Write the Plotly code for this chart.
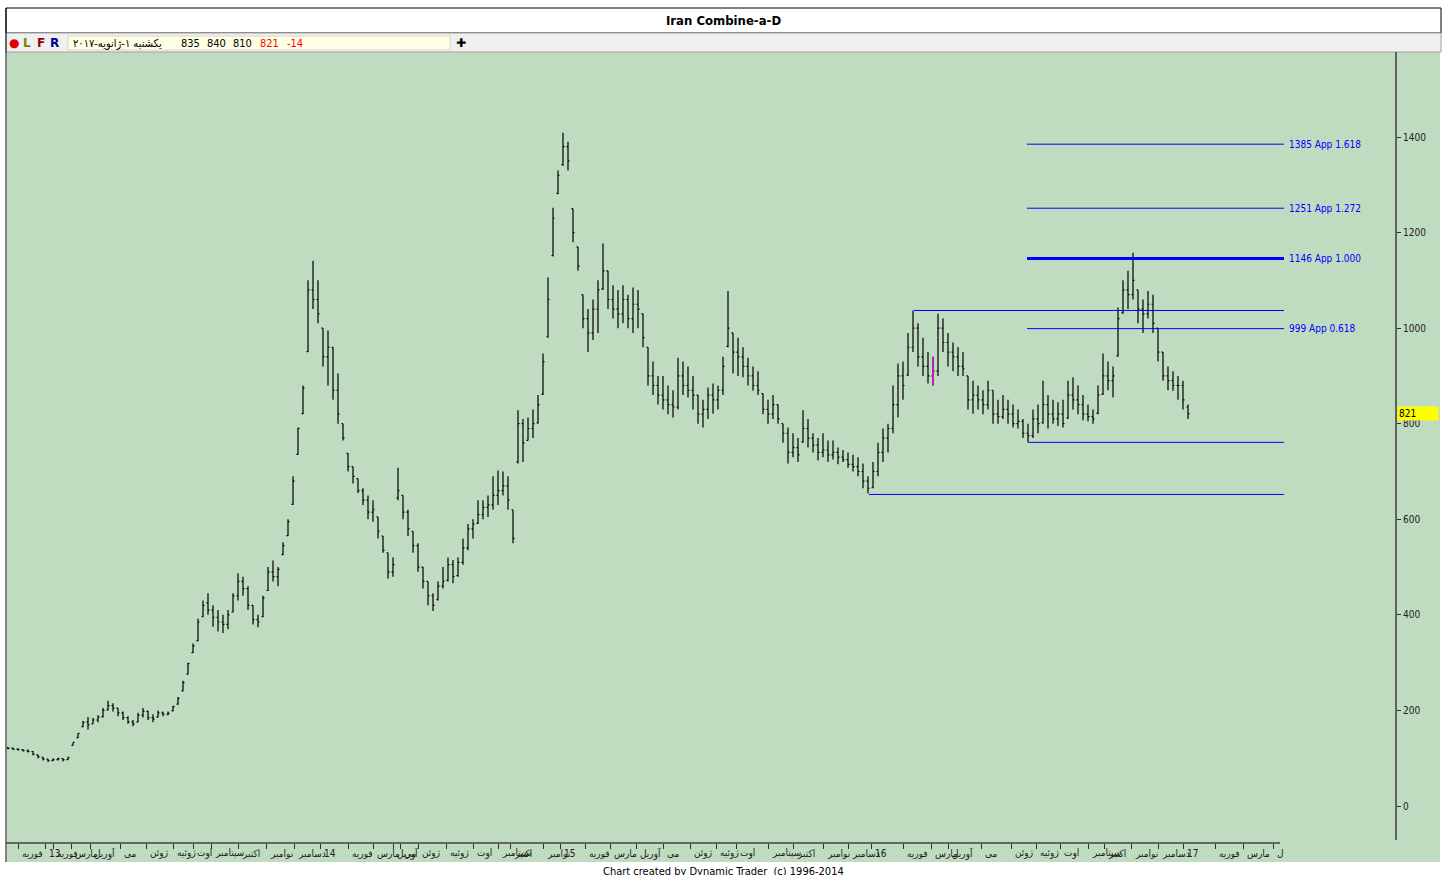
import plotly.graph_objects as go

# daily-ish bars (one bar per ~5px)
lows = [118, 117, 116, 114, 112, 106, 100, 95, 92, 94,
        95, 93, 96, 127, 142, 165, 160, 172, 175, 185,
        200, 198, 188, 180, 172, 167, 175, 185, 180, 175,
        185, 188, 190, 198, 212, 240, 275, 320, 345, 395,
        400, 375, 365, 362, 370, 405, 430, 440, 410, 380,
        374, 395, 450, 470, 460, 525, 565, 630, 735, 820,
        950, 1040, 1010, 920, 880, 850, 800, 765, 700, 675,
        655, 630, 600, 595, 560, 530, 476, 480, 640, 600,
        565, 530, 490, 455, 420, 408, 430, 455, 470, 466,
        480, 505, 535, 560, 590, 600, 605, 620, 630, 650,
        620, 550, 717, 720, 765, 770, 800, 860, 980, 1150,
        1280, 1340, 1330, 1180, 1120, 1000, 950, 975, 990, 1080,
        1040, 1020, 1000, 1010, 1000, 990, 1000, 960, 880, 860,
        840, 830, 820, 813, 830, 860, 855, 830, 800, 792,
        810, 821, 830, 860, 960, 905, 900, 897, 880, 869,
        860, 820, 800, 810, 800, 760, 717, 730, 720, 760,
        750, 740, 723, 730, 720, 725, 715, 720, 708, 700,
        690, 665, 654, 665, 690, 720, 740, 780, 813, 850,
        900, 950, 920, 900, 884, 880, 900, 950, 920, 910,
        900, 900, 830, 821, 830, 820, 830, 800, 800, 810,
        800, 792, 790, 770, 761, 770, 780, 800, 790, 800,
        795, 792, 810, 830, 820, 807, 805, 800, 820, 860,
        870, 855, 940, 1030, 1040, 1060, 1010, 990, 1020, 990,
        930, 890, 870, 869, 850, 830, 810]
highs = [123, 122, 121, 119, 118, 115, 108, 103, 99, 100,
         101, 100, 103, 133, 152, 178, 186, 184, 190, 205,
         220, 215, 205, 198, 188, 180, 195, 205, 200, 192,
         200, 198, 198, 210, 228, 262, 300, 340, 392, 430,
         445, 420, 410, 400, 410, 445, 487, 480, 460, 420,
         400, 440, 500, 514, 500, 552, 600, 690, 792, 880,
         1100, 1141, 1100, 1000, 995, 960, 905, 800, 738, 710,
         685, 665, 650, 640, 605, 565, 530, 520, 708, 650,
         620, 575, 550, 500, 470, 445, 470, 500, 520, 515,
         520, 560, 590, 600, 640, 640, 650, 690, 702, 700,
         690, 620, 828, 810, 813, 830, 860, 947, 1106, 1252,
         1330, 1409, 1390, 1250, 1170, 1070, 1040, 1060, 1100, 1177,
         1120, 1090, 1080, 1090, 1070, 1085, 1080, 1030, 960, 930,
         900, 900, 880, 870, 938, 930, 920, 900, 860, 850,
         876, 884, 880, 940, 1078, 990, 980, 960, 938, 920,
         910, 863, 850, 860, 840, 800, 792, 780, 770, 828,
         810, 780, 770, 780, 765, 765, 750, 745, 740, 735,
         730, 717, 690, 720, 760, 790, 800, 880, 926, 930,
         990, 1037, 1010, 980, 950, 940, 1030, 1020, 990, 970,
         960, 950, 900, 890, 880, 870, 890, 870, 850, 860,
         850, 840, 830, 810, 800, 830, 840, 890, 860, 850,
         845, 850, 890, 897, 880, 860, 840, 830, 880, 947,
         930, 920, 1043, 1100, 1120, 1158, 1080, 1060, 1078, 1070,
         1000, 950, 920, 910, 900, 890, 840]
closes = [121, 119, 118, 116, 114, 108, 103, 98, 95, 97,
          99, 97, 101, 133, 152, 175, 170, 180, 186, 200,
          210, 205, 195, 185, 176, 172, 190, 198, 185, 182,
          195, 192, 194, 208, 225, 258, 298, 335, 385, 420,
          410, 395, 385, 380, 400, 440, 470, 455, 420, 390,
          385, 435, 490, 480, 495, 545, 595, 680, 790, 875,
          1080, 1060, 1030, 940, 960, 870, 820, 770, 710, 690,
          660, 640, 615, 620, 575, 535, 490, 505, 660, 615,
          580, 545, 500, 470, 440, 420, 460, 470, 505, 480,
          510, 540, 580, 590, 610, 625, 630, 650, 660, 670,
          640, 560, 800, 760, 790, 800, 840, 930, 1060, 1230,
          1320, 1380, 1350, 1200, 1130, 1020, 990, 1040, 1080, 1120,
          1060, 1040, 1030, 1060, 1020, 1050, 1040, 980, 900, 880,
          860, 850, 840, 835, 900, 880, 870, 860, 820, 830,
          860, 850, 870, 920, 1000, 950, 940, 920, 900, 880,
          870, 830, 820, 840, 810, 780, 740, 750, 735, 790,
          770, 755, 740, 745, 735, 740, 730, 725, 715, 710,
          700, 680, 665, 700, 740, 770, 790, 840, 900, 880,
          960, 1000, 940, 920, 900, 910, 1000, 970, 950, 940,
          920, 915, 850, 860, 850, 840, 870, 820, 815, 830,
          820, 800, 805, 780, 775, 810, 800, 840, 820, 810,
          820, 800, 860, 850, 840, 820, 815, 810, 860, 900,
          890, 900, 1020, 1080, 1070, 1100, 1040, 1030, 1050, 1010,
          950, 900, 890, 880, 880, 850, 821]
opens = [122, 121, 119, 118, 116, 114, 107, 102, 98, 95,
         97, 99, 97, 127, 143, 166, 176, 172, 180, 187,
         201, 210, 205, 195, 185, 176, 176, 190, 198, 185,
         186, 195, 192, 199, 213, 241, 276, 321, 346, 396,
         425, 410, 395, 385, 380, 406, 440, 470, 455, 420,
         390, 396, 451, 490, 480, 526, 566, 631, 736, 821,
         951, 1080, 1060, 1000, 940, 960, 870, 800, 738, 710,
         685, 660, 640, 615, 605, 565, 530, 490, 645, 650,
         615, 575, 545, 500, 470, 440, 432, 460, 472, 505,
         482, 510, 540, 580, 592, 610, 625, 630, 650, 660,
         670, 620, 720, 800, 765, 790, 802, 862, 982, 1152,
         1282, 1342, 1380, 1250, 1170, 1070, 1020, 990, 1040, 1082,
         1120, 1060, 1040, 1030, 1060, 1020, 1050, 1030, 960, 900,
         880, 860, 850, 840, 835, 900, 880, 870, 860, 820,
         830, 860, 850, 870, 962, 990, 950, 940, 920, 900,
         880, 863, 830, 820, 840, 800, 780, 740, 750, 762,
         790, 770, 755, 740, 745, 735, 740, 730, 725, 715,
         710, 700, 680, 666, 700, 740, 770, 790, 840, 900,
         902, 960, 1000, 940, 920, 900, 910, 1000, 970, 950,
         940, 920, 900, 850, 860, 850, 840, 870, 820, 815,
         830, 820, 800, 805, 780, 775, 810, 802, 840, 820,
         810, 820, 812, 860, 850, 840, 820, 815, 822, 862,
         900, 890, 942, 1032, 1080, 1070, 1080, 1040, 1030, 1050,
         1000, 950, 900, 890, 880, 880, 835]
bars = list(range(len(closes)))
marked_bar = 185

# month labels on the time axis and the bar where each starts
month_text = ["فوریه", "13", "فوریه", "مارس", "آوریل", "می", "ژوئن", "ژوئیه", "اوت", "سپتامبر",
              "اکتبر", "نوامبر", "دسامبر", "14", "فوریه", "مارس", "آوریل", "می", "ژوئن", "ژوئیه",
              "اوت", "سپتامبر", "اکتبر", "نوامبر", "15", "فوریه", "مارس", "آوریل", "می", "ژوئن",
              "ژوئیه", "اوت", "سپتامبر", "اکتبر", "نوامبر", "دسامبر", "16", "فوریه", "مارس", "آوریل",
              "می", "ژوئن", "ژوئیه", "اوت", "سپتامبر", "اکتبر", "نوامبر", "دسامبر", "17", "فوریه",
              "مارس", "ل"]
month_bar = [2.0, 7.4, 9.0, 12.6, 16.4, 22.4, 27.6, 33.0, 37.0, 40.6,
             46.0, 51.6, 57.2, 62.4, 68.0, 73.0, 77.0, 78.4, 82.0, 87.6,
             93.0, 98.0, 100.4, 107.0, 110.4, 115.4, 120.4, 125.6, 131.0, 136.4,
             141.6, 145.6, 152.0, 157.0, 163.0, 168.0, 172.6, 179.0, 184.6, 188.0,
             194.6, 200.6, 205.6, 210.4, 216.0, 219.2, 224.6, 230.0, 235.0, 241.4,
             247.0, 253.0]

# fibonacci projections (price, label, line width)
fib_price = [1385, 1251, 1146, 999]
fib_label = ["1385 App 1.618", "1251 App 1.272", "1146 App 1.000", "999 App 0.618"]
fib_width = [1, 1, 3, 1]
fib_start = 203.8
# horizontal swing lines: price and starting bar
swing_price = [1037, 761, 652]
swing_start = [181.2, 204.0, 172.2]
line_end = 255.2

price_ticks = [0, 200, 400, 600, 800, 1000, 1200, 1400]
last_price = 821

W, H = 1445, 875
L_M, R_M, T_M, B_M = 7, 5, 52, 13
PW, PH = W - L_M - R_M, H - T_M - B_M


def px(x):
    return (x - L_M) / PW


def py(y):
    return (H - B_M - y) / PH


GREEN = "#c0dcc0"
NARROW = "Liberation Sans Narrow, DejaVu Sans Condensed, Arial Narrow, sans-serif"

fig = go.Figure()
fig.add_trace(go.Ohlc(x=bars, open=opens, high=highs, low=lows, close=closes,
                      increasing_line_color="black", decreasing_line_color="black",
                      line_width=1.2, tickwidth=0.3, hoverinfo="skip", showlegend=False))
fig.add_trace(go.Ohlc(x=[marked_bar], open=[opens[marked_bar]], high=[highs[marked_bar]],
                      low=[lows[marked_bar]], close=[closes[marked_bar]],
                      increasing_line_color="#ff00ff", decreasing_line_color="#ff00ff",
                      line_width=1.2, tickwidth=0.3, hoverinfo="skip", showlegend=False))

shapes = []
for p, w in zip(fib_price, fib_width):
    shapes.append(dict(type="line", xref="x", yref="y", x0=fib_start, x1=line_end, y0=p, y1=p,
                       line=dict(color="#0000ff", width=w)))
for p, s in zip(swing_price, swing_start):
    shapes.append(dict(type="line", xref="x", yref="y", x0=s, x1=line_end, y0=p, y1=p,
                       line=dict(color="#0000ff", width=1)))

# frame, title bar, toolbar
shapes += [
    dict(type="rect", xref="paper", yref="paper", x0=px(6), x1=px(1441), y0=py(8), y1=py(33),
         line=dict(color="black", width=1), fillcolor="white", layer="below"),
    dict(type="rect", xref="paper", yref="paper", x0=px(6), x1=px(1441), y0=py(33), y1=py(52),
         line=dict(color="#a0a0a0", width=1), fillcolor="#f0f0f0", layer="below"),
    dict(type="rect", xref="paper", yref="paper", x0=px(68), x1=px(450), y0=py(36), y1=py(50),
         line=dict(color="#d8d8c0", width=1), fillcolor="#ffffe6"),
    dict(type="line", xref="paper", yref="paper", x0=px(6), x1=px(6), y0=py(862), y1=py(8),
         line=dict(color="black", width=1)),
    dict(type="line", xref="paper", yref="paper", x0=px(1396), x1=px(1396), y0=py(840), y1=py(52),
         line=dict(color="#606060", width=2)),
    dict(type="line", xref="paper", yref="paper", x0=px(6), x1=px(1280), y0=py(843), y1=py(843),
         line=dict(color="#404040", width=1.5)),
]

ann = []
for t, b in zip(month_text, month_bar):
    ann.append(dict(x=b + 0.4, y=py(853), xref="x", yref="paper", text=t, showarrow=False,
                    xanchor="left", yanchor="middle", font=dict(size=10, color="#202020", family=NARROW)))
for p, t in zip(fib_price, fib_label):
    ann.append(dict(x=line_end + 0.6, y=p, xref="x", yref="y", text=t, showarrow=False,
                    xanchor="left", yanchor="middle", font=dict(size=10, color="#0000ff", family=NARROW)))
ann.append(dict(x=px(1397), y=last_price, xref="paper", yref="y", text=str(last_price),
                showarrow=False, xanchor="left", yanchor="middle", bgcolor="#ffff00",
                width=38, align="left", borderpad=1,
                font=dict(size=10, color="black", family=NARROW)))
ann.append(dict(x=0.5, y=py(20), xref="paper", yref="paper", text="<b>Iran Combine-a-D</b>",
                showarrow=False, xanchor="center", yanchor="middle",
                font=dict(size=13, color="black", family=NARROW)))
ann.append(dict(x=0.5, y=py(871), xref="paper", yref="paper",
                text="Chart created by Dynamic Trader  (c) 1996-2014", showarrow=False,
                xanchor="center", yanchor="middle", font=dict(size=11, color="black", family=NARROW)))

toolbar = [("●", 14, "#e00000"), ("L", 27, "#808000"), ("F", 41, "#900000"), ("R", 54, "#000090")]
for t, x, c in toolbar:
    ann.append(dict(x=px(x), y=py(43), xref="paper", yref="paper", text="<b>" + t + "</b>",
                    showarrow=False, xanchor="center", yanchor="middle",
                    font=dict(size=12, color=c, family="DejaVu Sans")))
header = [("یکشنبه ۱-ژانویه-۲۰۱۷", 71, "black"), ("835", 179, "black"), ("840", 205, "black"),
          ("810", 231, "black"), ("821", 258, "#ff0000"), ("-14", 285, "#ff0000")]
for t, x, c in header:
    ann.append(dict(x=px(x), y=py(43), xref="paper", yref="paper", text=t, showarrow=False,
                    xanchor="left", yanchor="middle", font=dict(size=11, color=c, family=NARROW)))
ann.append(dict(x=px(461), y=py(43), xref="paper", yref="paper", text="<b>✚</b>", showarrow=False,
                xanchor="center", yanchor="middle", font=dict(size=12, color="black", family="DejaVu Sans")))

fig.update_layout(
    width=W, height=H,
    margin=dict(l=L_M, r=R_M, t=T_M, b=B_M),
    paper_bgcolor="white", plot_bgcolor=GREEN,
    shapes=shapes, annotations=ann,
    xaxis=dict(range=[-0.2, 286.4], anchor="free", position=py(843), showgrid=False,
               zeroline=False, showline=False, ticks="outside", ticklen=5, tickwidth=1,
               tickcolor="#303030", tickvals=month_bar, showticklabels=False,
               rangeslider=dict(visible=False)),
    yaxis=dict(range=[-117.2, 1577.9], side="right", anchor="free", position=px(1396),
               showgrid=False, zeroline=False, showline=False, ticks="outside", ticklen=4,
               tickcolor="#303030", tickvals=price_ticks, ticklabelstandoff=0,
               tickfont=dict(size=10, color="#202020", family=NARROW)),
    showlegend=False,
)

# the page's default body margin would shift the whole figure by 8px
fig.write_html("out.html", config={"displayModeBar": False},
               post_script="document.body.style.margin='0px';")
